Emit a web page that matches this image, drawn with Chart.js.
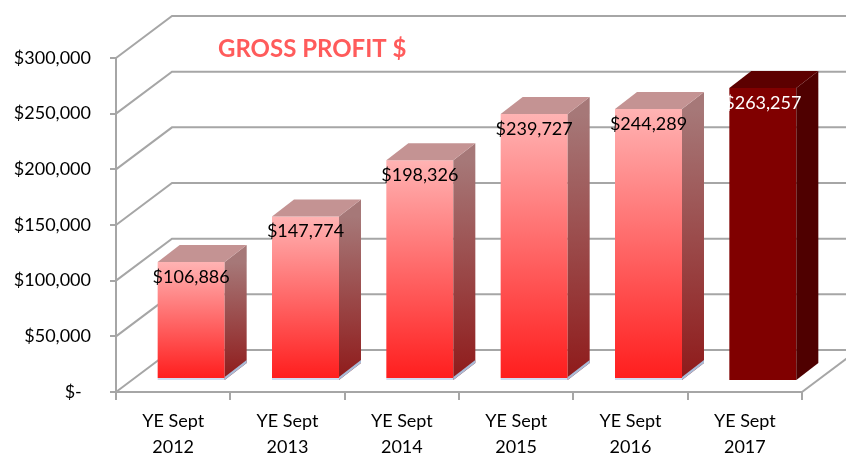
<!DOCTYPE html>
<html>
<head>
<meta charset="utf-8">
<script src="https://cdn.jsdelivr.net/npm/chart.js@4"></script>
<style>
  body { margin: 0; background: #fff; }
  canvas { display: block; }
</style>
</head>
<body>
<canvas id="chart" width="846" height="453"></canvas>
<script>
const categories = [
    ['YE Sept', '2012'], ['YE Sept', '2013'], ['YE Sept', '2014'],
    ['YE Sept', '2015'], ['YE Sept', '2016'], ['YE Sept', '2017']
];
const grossProfit = [106886, 147774, 198326, 239727, 244289, 263257];
const yMax = 300000;
const yStep = 50000;
const chartTitle = 'GROSS PROFIT $';

const FONT = 'Lato, "Open Sans", sans-serif';
const GRID = '#a6a6a6';
const WALL = { dx: 56, dy: -42 };   // back wall offset
const SHIFT = { dx: 18, dy: -11 };  // bar front face, offset from front plane
const DEPTH = { dx: 22, dy: -17 };  // bar depth
const LAST = grossProfit.length - 1;

function money(v) {
    if (v === 0) return '$-  ';
    return '$' + v.toLocaleString('en-US');
}

function frontFill(ctx) {
    if (ctx.dataIndex === LAST) return '#800000';
    const chart = ctx.chart;
    const y = chart.scales.y;
    if (!y || ctx.raw == null) return '#ff5050';
    const top = y.getPixelForValue(ctx.raw);
    const base = y.getPixelForValue(0);
    if (!Number.isFinite(top) || !Number.isFinite(base) || base - top < 4) return '#ff5050';
    const edge = 1 - 3 / (base - top);
    const g = chart.ctx.createLinearGradient(0, top, 0, base);
    g.addColorStop(0, '#ffb3b3');
    g.addColorStop(edge, '#ff1e1e');
    g.addColorStop(edge, '#cfdcf2');
    g.addColorStop(1, '#cfdcf2');
    return g;
}

function poly(ctx, pts, fill) {
    ctx.beginPath();
    ctx.moveTo(pts[0][0], pts[0][1]);
    for (let i = 1; i < pts.length; i++) ctx.lineTo(pts[i][0], pts[i][1]);
    ctx.closePath();
    ctx.fillStyle = fill;
    ctx.fill();
}

const wallPlugin = {
    id: 'wall',
    beforeDatasetsDraw(chart) {
        const ctx = chart.ctx;
        const y = chart.scales.y;
        const area = chart.chartArea;
        ctx.save();
        ctx.strokeStyle = GRID;
        ctx.lineWidth = 2;
        for (const t of y.ticks) {
            const py = y.getPixelForValue(t.value);
            ctx.beginPath();
            ctx.moveTo(area.left, py);
            ctx.lineTo(area.left + WALL.dx, py + WALL.dy);
            ctx.lineTo(chart.width, py + WALL.dy);
            ctx.stroke();
        }
        ctx.beginPath();
        ctx.moveTo(area.right, area.bottom);
        ctx.lineTo(area.right + WALL.dx, area.bottom + WALL.dy);
        ctx.stroke();
        ctx.restore();
    }
};

const boxPlugin = {
    id: 'box',
    beforeDatasetDraw(chart) {
        chart.ctx.save();
        chart.ctx.translate(SHIFT.dx, SHIFT.dy);
    },
    afterDatasetDraw(chart, args) {
        const ctx = chart.ctx;
        args.meta.data.forEach((el, i) => {
            const left = el.x - el.width / 2;
            const right = el.x + el.width / 2;
            const top = el.y;
            const base = el.base;
            let side;
            if (i === LAST) {
                side = '#4f0000';
            } else {
                side = ctx.createLinearGradient(0, top, 0, base);
                side.addColorStop(0, '#a67878');
                side.addColorStop(1, '#8f1a1a');
            }
            poly(ctx, [[right, top], [right + DEPTH.dx, top + DEPTH.dy],
                [right + DEPTH.dx, base + DEPTH.dy], [right, base]], side);
            if (i !== LAST) {
                poly(ctx, [[right, base - 3], [right + DEPTH.dx, base - 3 + DEPTH.dy],
                    [right + DEPTH.dx, base + DEPTH.dy], [right, base]], '#a9bcd8');
            }
            poly(ctx, [[left, top], [left + DEPTH.dx, top + DEPTH.dy],
                [right + DEPTH.dx, top + DEPTH.dy], [right, top]],
                i === LAST ? '#5c0000' : '#c49393');
        });
        ctx.restore();
    },
    afterDatasetsDraw(chart) {
        const ctx = chart.ctx;
        const meta = chart.getDatasetMeta(0);
        ctx.save();
        ctx.font = '18px ' + FONT;
        ctx.textAlign = 'center';
        ctx.textBaseline = 'middle';
        meta.data.forEach((el, i) => {
            ctx.fillStyle = i === LAST ? '#ffffff' : '#000000';
            ctx.fillText(money(grossProfit[i]), el.x + SHIFT.dx, el.y + SHIFT.dy + 15);
        });
        ctx.font = 'bold 24px ' + FONT;
        ctx.textAlign = 'left';
        ctx.textBaseline = 'alphabetic';
        ctx.fillStyle = '#ff5b5b';
        ctx.fillText(chartTitle, 218, 57);
        ctx.restore();
    }
};

new Chart(document.getElementById('chart'), {
    type: 'bar',
    data: {
        labels: categories,
        datasets: [{
            data: grossProfit,
            backgroundColor: frontFill,
            borderWidth: 0,
            categoryPercentage: 1,
            barPercentage: 0.586,
            clip: false
        }]
    },
    options: {
        responsive: false,
        devicePixelRatio: 1,
        animation: false,
        layout: { padding: { top: 58, right: 44, left: 0, bottom: 0 } },
        plugins: {
            legend: { display: false },
            tooltip: { enabled: false }
        },
        scales: {
            x: {
                afterFit(s) { s.height = 61; },
                grid: { drawOnChartArea: false, tickLength: 8, color: GRID, lineWidth: 2 },
                border: { color: GRID, width: 2 },
                ticks: { color: '#000', padding: 9, font: { family: FONT, size: 18, lineHeight: 1.4 } }
            },
            y: {
                min: 0,
                max: yMax,
                afterFit(s) { s.width = 116; },
                grid: { drawOnChartArea: false, tickLength: 6, color: GRID, lineWidth: 2 },
                border: { color: GRID, width: 2 },
                ticks: {
                    stepSize: yStep,
                    color: '#000',
                    padding: 19,
                    font: { family: FONT, size: 18 },
                    callback: (v) => money(v)
                }
            }
        }
    },
    plugins: [wallPlugin, boxPlugin]
});
</script>
</body>
</html>
